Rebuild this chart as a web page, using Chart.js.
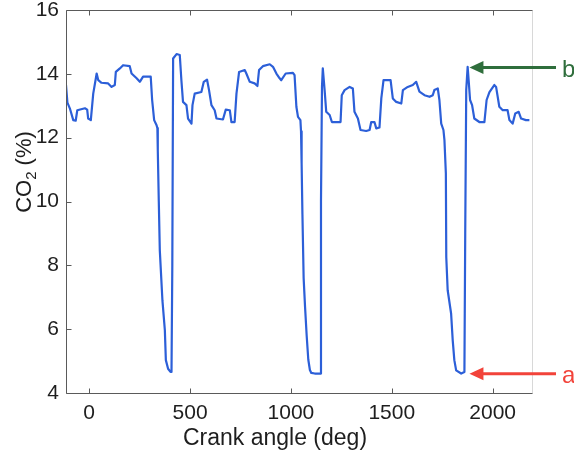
<!DOCTYPE html>
<html>
<head>
<meta charset="utf-8">
<script src="https://cdn.jsdelivr.net/npm/chart.js@4/dist/chart.umd.min.js"></script>
<style>
  html, body { margin: 0; padding: 0; background: #fff; }
  canvas { display: block; }
</style>
</head>
<body>
<canvas id="c" width="574" height="454"></canvas>
<script>
// CO2 concentration trace against crank angle
const crankAngle = [
  -115, -108, -96, -79, -67, -59, -21, -10, -5, 8, 20, 37, 45, 61, 94, 111, 127, 132, 152, 168,
  201, 210, 235, 251, 267, 305, 312, 322, 334, 338, 340, 345, 350, 363, 375, 380, 391, 403, 408, 412,
  416, 433, 449, 457, 465, 482, 490, 507, 512, 523, 556, 568, 584, 594, 606, 622, 631, 663, 677, 697,
  705, 721, 730, 743, 771, 779, 796, 820, 834, 842, 861, 895, 911, 928, 944, 952, 974, 1010, 1018, 1027,
  1035, 1047, 1050, 1053, 1057, 1063, 1070, 1078, 1086, 1094, 1101, 1118, 1146, 1149, 1154, 1158, 1167, 1175, 1192, 1203, 1246,
  1252, 1266, 1291, 1307, 1315, 1332, 1345, 1373, 1390, 1398, 1414, 1423, 1439, 1448, 1459, 1494, 1505, 1522, 1547, 1555,
  1579, 1604, 1621, 1637, 1662, 1687, 1703, 1711, 1728, 1736, 1745, 1756, 1761, 1768, 1770, 1777, 1794, 1802, 1810, 1819,
  1844, 1860, 1864, 1869, 1876, 1881, 1888, 1898, 1909, 1934, 1959, 1970, 1984, 2008, 2017, 2033, 2050, 2074, 2083, 2099,
  2112, 2129, 2141, 2165, 2182
];
const co2Percent = [
  13.65, 13.10, 12.92, 12.55, 12.53, 12.86, 12.92, 12.88, 12.60, 12.55, 13.38, 14.01, 13.80, 13.72, 13.70, 13.59, 13.65, 14.06, 14.17, 14.27,
  14.24, 14.01, 13.86, 13.75, 13.91, 13.91, 13.18, 12.55, 12.39, 12.30, 11.60, 10.00, 8.47, 6.90, 5.97, 5.03, 4.76, 4.66, 4.66, 8.00,
  14.48, 14.62, 14.59, 13.80, 13.12, 13.02, 12.60, 12.44, 13.02, 13.38, 13.43, 13.75, 13.82, 13.49, 13.02, 12.86, 12.60, 12.57, 12.88, 12.86,
  12.49, 12.49, 13.38, 14.06, 14.12, 14.01, 13.75, 13.70, 13.62, 14.12, 14.24, 14.30, 14.22, 14.01, 13.86, 13.80, 14.01, 14.03, 13.96, 12.97,
  12.65, 12.55, 12.20, 11.20, 9.60, 7.60, 6.70, 5.80, 5.05, 4.72, 4.63, 4.61, 4.61, 10.00, 13.60, 14.17, 13.49, 12.81, 12.71, 12.49, 12.49,
  13.33, 13.49, 13.59, 13.54, 12.81, 12.60, 12.24, 12.21, 12.24, 12.49, 12.49, 12.29, 12.32, 13.23, 13.80, 13.80, 13.23, 13.12, 13.07, 13.49,
  13.59, 13.65, 13.75, 13.44, 13.33, 13.28, 13.33, 13.49, 13.54, 13.18, 12.44, 12.24, 11.92, 10.88, 8.26, 7.22, 6.49, 5.65, 5.03, 4.71,
  4.61, 4.66, 9.00, 13.50, 14.22, 13.80, 13.18, 13.02, 12.60, 12.49, 12.49, 13.18, 13.43, 13.65, 13.59, 12.97, 12.86, 12.86, 12.55, 12.44,
  12.76, 12.81, 12.60, 12.55, 12.55
];
const xTickValues = [0, 500, 1000, 1500, 2000];
const yTickValues = [4, 6, 8, 10, 12, 14, 16];

// Annotated levels: peak (b) and trough (a)
const markerLabels = ['b', 'a'];
const markerLevels = [14.2, 4.6];
const markerAngle = 1885;
const markerColors = ['#2f6e3c', '#f2433a'];

const FONT = '"Liberation Sans", Arial, Helvetica, sans-serif';
const points = crankAngle.map((x, i) => ({ x, y: co2Percent[i] }));

// Box frame with inward ticks, axis titles and the two arrows
const decorations = {
  id: 'decorations',
  afterDraw(chart) {
    const ctx = chart.ctx;
    const a = chart.chartArea;
    const xs = chart.scales.x, ys = chart.scales.y;
    const L = Math.round(a.left) + 0.5, R = Math.round(a.right) + 0.5;
    const T = Math.round(a.top) + 0.5, B = Math.round(a.bottom) + 0.5;
    ctx.save();
    ctx.lineWidth = 1;
    // faint right edge
    ctx.strokeStyle = '#d8d8d8';
    ctx.beginPath(); ctx.moveTo(R, T); ctx.lineTo(R, B); ctx.stroke();
    // left, bottom, top edges
    ctx.strokeStyle = '#5a5a5a';
    ctx.beginPath();
    ctx.moveTo(L, T); ctx.lineTo(L, B); ctx.lineTo(R, B);
    ctx.moveTo(L, T); ctx.lineTo(R, T);
    ctx.stroke();
    // inward ticks
    ctx.beginPath();
    xTickValues.forEach(v => {
      const px = Math.round(xs.getPixelForValue(v)) + 0.5;
      ctx.moveTo(px, B); ctx.lineTo(px, B - 5);
      ctx.moveTo(px, T); ctx.lineTo(px, T + 5);
    });
    yTickValues.forEach(v => {
      const py = Math.round(ys.getPixelForValue(v)) + 0.5;
      ctx.moveTo(L, py); ctx.lineTo(L + 5, py);
    });
    ctx.stroke();

    // x title
    ctx.fillStyle = '#1e1e1e';
    ctx.font = '23px ' + FONT;
    ctx.textAlign = 'center';
    ctx.textBaseline = 'alphabetic';
    ctx.fillText('Crank angle (deg)', 275, 445);

    // y title with subscript
    ctx.translate(31, 172);
    ctx.rotate(-Math.PI / 2);
    ctx.font = '22px ' + FONT;
    const w1 = ctx.measureText('CO').width;
    ctx.font = '15px ' + FONT;
    const w2 = ctx.measureText('2').width;
    ctx.font = '22px ' + FONT;
    const w3 = ctx.measureText(' (%)').width;
    let x0 = -(w1 + w2 + w3) / 2;
    ctx.textAlign = 'left';
    ctx.fillText('CO', x0, 0);
    ctx.font = '15px ' + FONT;
    ctx.fillText('2', x0 + w1, 5);
    ctx.font = '22px ' + FONT;
    ctx.fillText(' (%)', x0 + w1 + w2, 0);
    ctx.setTransform(1, 0, 0, 1, 0, 0);

    // arrows
    markerLevels.forEach((lvl, i) => {
      const tipX = xs.getPixelForValue(markerAngle);
      const y = ys.getPixelForValue(lvl);
      const tailX = 556;
      ctx.fillStyle = markerColors[i];
      ctx.strokeStyle = markerColors[i];
      ctx.lineWidth = 3;
      ctx.beginPath(); ctx.moveTo(tipX + 10, y); ctx.lineTo(tailX, y); ctx.stroke();
      ctx.beginPath();
      ctx.moveTo(tipX, y);
      ctx.lineTo(tipX + 14, y - 6.5);
      ctx.lineTo(tipX + 14, y + 6.5);
      ctx.closePath(); ctx.fill();
      ctx.font = '24px ' + FONT;
      ctx.textAlign = 'left';
      ctx.textBaseline = 'middle';
      ctx.fillText(markerLabels[i], 562, y + 3);
    });
    ctx.restore();
  }
};

new Chart(document.getElementById('c'), {
  type: 'line',
  data: {
    datasets: [{
      data: points,
      borderColor: '#2c5fd8',
      borderWidth: 2.2,
      borderJoinStyle: 'round',
      pointRadius: 0,
      tension: 0,
      fill: false
    }]
  },
  options: {
    responsive: false,
    animation: false,
    layout: { padding: { top: 10, right: 42, left: 0, bottom: 0 } },
    plugins: { legend: { display: false }, tooltip: { enabled: false } },
    scales: {
      x: {
        type: 'linear',
        min: -115,
        max: 2195,
        grid: { display: false, drawTicks: false },
        border: { display: false },
        afterBuildTicks: s => { s.ticks = xTickValues.map(v => ({ value: v })); },
        afterFit: s => { s.height = 61; s.paddingLeft = 0; s.paddingRight = 0; },
        ticks: {
          color: '#1e1e1e', font: { size: 21, family: FONT }, padding: 8, maxRotation: 0, autoSkip: false,
          callback: v => String(v)
        }
      },
      y: {
        type: 'linear',
        min: 4,
        max: 16,
        grid: { display: false, drawTicks: false },
        border: { display: false },
        afterBuildTicks: s => { s.ticks = yTickValues.map(v => ({ value: v })); },
        afterFit: s => { s.width = 66; s.paddingTop = 0; s.paddingBottom = 0; },
        ticks: {
          color: '#1e1e1e', font: { size: 21, family: FONT }, padding: 7, autoSkip: false,
          callback: v => String(v)
        }
      }
    }
  },
  plugins: [decorations]
});
</script>
</body>
</html>
